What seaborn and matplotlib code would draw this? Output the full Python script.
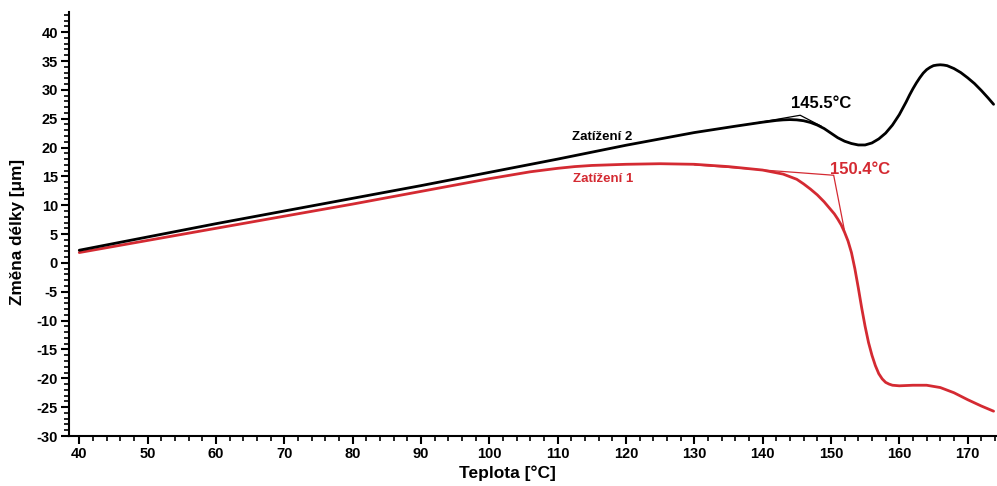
import matplotlib
matplotlib.use("Agg")
import matplotlib.pyplot as plt
from matplotlib.ticker import MultipleLocator
import numpy as np
import pandas as pd
import seaborn as sns

# Dilatometric curves: length change vs. temperature for two loads
temp_load2 = [40, 50, 60, 70, 80, 90, 100, 110, 120, 130, 136, 140, 141, 142,
              143, 144, 145, 146, 147, 148, 149, 150, 151, 152, 153, 154, 155,
              156, 157, 158, 159, 160, 160.5, 161, 161.5, 162, 162.5, 163,
              163.5, 164, 164.5, 165, 165.5, 166, 166.5, 167, 168, 169, 170,
              171, 172, 173, 173.8]
dl_load2 = [2.2, 4.5, 6.8, 9.0, 11.2, 13.4, 15.7, 18.0, 20.4, 22.6, 23.7, 24.4,
            24.55, 24.7, 24.8, 24.85, 24.8, 24.65, 24.35, 23.9, 23.3, 22.5,
            21.7, 21.1, 20.7, 20.45, 20.45, 20.8, 21.5, 22.5, 23.9, 25.7,
            26.8, 27.9, 29.1, 30.2, 31.2, 32.1, 32.9, 33.5, 33.9, 34.2, 34.3,
            34.35, 34.3, 34.2, 33.7, 33.0, 32.1, 31.1, 29.9, 28.6, 27.5]

temp_load1 = [40, 50, 60, 70, 80, 90, 100, 102, 104, 106, 108, 110, 112.5,
              115, 120, 125, 130, 135, 140, 143, 145, 146, 147, 148, 149, 150,
              150.5, 151, 151.5, 152, 152.5, 153, 153.5, 154, 154.5, 155,
              155.5, 156, 156.5, 157, 157.5, 158, 158.5, 159, 160, 162, 164,
              166, 168, 170, 172, 173.8]
dl_load1 = [1.8, 3.9, 6.0, 8.1, 10.2, 12.4, 14.6, 15.0, 15.4, 15.8, 16.1, 16.4,
            16.7, 16.9, 17.1, 17.2, 17.1, 16.7, 16.1, 15.4, 14.5, 13.7, 12.8,
            11.8, 10.6, 9.2, 8.5, 7.6, 6.6, 5.3, 3.8, 1.8, -1.0, -4.3, -7.8,
            -11.0, -13.8, -16.0, -17.8, -19.2, -20.1, -20.7, -21.0, -21.2,
            -21.3, -21.2, -21.2, -21.6, -22.5, -23.7, -24.8, -25.7]

series_names = ["Zatížení 2", "Zatížení 1"]
onset_labels = ["145.5°C", "150.4°C"]
onset_temps = [145.5, 150.4]

# Tangent constructions used to read the onset temperatures
tangent_load2 = {"x": [138.0, onset_temps[0], 148.6], "y": [24.05, 25.6, 23.7]}
tangent_load1 = {"x": [130.0, onset_temps[1], 152.0], "y": [17.0, 15.2, 5.5]}

red = "#d42a32"
black = "#000000"

sns.set_style("ticks", {"text.color": "black", "xtick.color": "black",
                        "ytick.color": "black", "axes.edgecolor": "black",
                        "axes.labelcolor": "black"})
plt.rcParams["font.family"] = ["Liberation Sans", "DejaVu Sans"]
plt.rcParams["font.weight"] = "bold"
plt.rcParams["axes.unicode_minus"] = False

df = pd.concat([
    pd.DataFrame({"Teplota": temp_load2, "dl": dl_load2, "series": series_names[0]}),
    pd.DataFrame({"Teplota": temp_load1, "dl": dl_load1, "series": series_names[1]}),
])

fig = plt.figure(figsize=(9.97, 4.86), dpi=100)
ax = fig.add_axes([69 / 997, 50 / 486, 928 / 997, 424 / 486])

sns.lineplot(data=df, x="Teplota", y="dl", hue="series",
             palette={series_names[0]: black, series_names[1]: red},
             hue_order=[series_names[1], series_names[0]],
             estimator=None, sort=True, linewidth=2.0, legend=False, ax=ax)

ax.plot(tangent_load2["x"], tangent_load2["y"], color=black, lw=0.9)
ax.plot(tangent_load1["x"], tangent_load1["y"], color=red, lw=0.9)

ax.set_xlim(38.5, 174.3)
ax.set_ylim(-30, 43.5)

ax.xaxis.set_major_locator(MultipleLocator(10))
ax.xaxis.set_minor_locator(MultipleLocator(2))
ax.yaxis.set_major_locator(MultipleLocator(5))
ax.yaxis.set_minor_locator(MultipleLocator(1))
ax.set_xticks(np.arange(40, 171, 10))

ax.tick_params(which="major", direction="out", length=6, width=1.5,
               labelsize=10.5, pad=2, colors="black")
ax.tick_params(which="minor", direction="out", length=3.5, width=1.2,
               colors="black")
for lbl in ax.get_xticklabels() + ax.get_yticklabels():
    lbl.set_fontweight("bold")

for side in ("top", "right"):
    ax.spines[side].set_visible(False)
for side in ("left", "bottom"):
    ax.spines[side].set_linewidth(1.5)

ax.set_xlabel("Teplota [°C]", fontsize=12.5, fontweight="bold")
ax.set_ylabel("Změna délky [μm]", fontsize=12.3, fontweight="bold")
ax.xaxis.set_label_coords((507 - 69) / 928, -0.07)
ax.yaxis.set_label_coords(-0.047, (436 - 232) / 424)

ax.text(116.5, 21.8, series_names[0], color=black, fontsize=9.5,
        fontweight="bold", ha="center", va="center")
ax.text(116.6, 14.6, series_names[1], color=red, fontsize=9.5,
        fontweight="bold", ha="center", va="center")
ax.text(148.6, 27.6, onset_labels[0], color=black, fontsize=12,
        fontweight="bold", ha="center", va="center")
ax.text(154.2, 16.2, onset_labels[1], color=red, fontsize=12,
        fontweight="bold", ha="center", va="center")

fig.savefig("out.png", dpi=100)
